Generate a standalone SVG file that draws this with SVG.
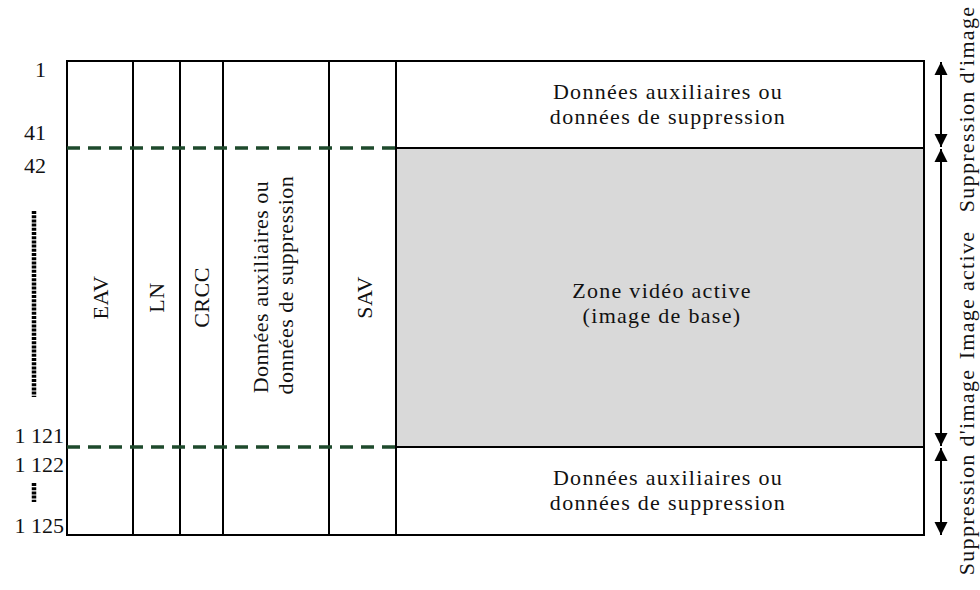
<svg xmlns="http://www.w3.org/2000/svg" width="980" height="590" viewBox="0 0 980 590">
<style>
  .t { font-family: "Liberation Serif", "Times New Roman", serif; font-size: 22px; fill: #111; }
  .sp { letter-spacing: 1.3px; }
  .sr { letter-spacing: 0.5px; }
  .m { text-anchor: middle; }
  .e { text-anchor: end; }
  .ln { stroke: #000; stroke-width: 2; fill: none; }
  .dash { stroke: #1e4a2c; stroke-width: 3.5; stroke-dasharray: 13 8; fill: none; }
  .dots { stroke: #000; stroke-width: 4.5; stroke-dasharray: 3 1.2; fill: none; }
  .arr { stroke: #000; stroke-width: 2; fill: none; marker-start: url(#ah); marker-end: url(#ah); }
</style>
<defs>
  <marker id="ah" viewBox="0 0 10 10" refX="10" refY="5" markerUnits="userSpaceOnUse" markerWidth="13" markerHeight="14" orient="auto-start-reverse">
    <path d="M0,0 L10,5 L0,10 z" fill="#000"/>
  </marker>
</defs>
<rect width="980" height="590" fill="#fff"/>

<g id="active-zone">
  <rect x="396" y="148" width="528" height="299" fill="#d9d9d9"/>
  <text class="t m sp" x="662" y="298">Zone vidéo active</text>
  <text class="t m sp" x="662" y="323">(image de base)</text>
</g>
<g id="top-blanking">
  <text class="t m sp" x="668" y="99">Données auxiliaires ou</text>
  <text class="t m sp" x="668" y="124">données de suppression</text>
</g>
<g id="bottom-blanking">
  <text class="t m sp" x="668" y="485">Données auxiliaires ou</text>
  <text class="t m sp" x="668" y="510">données de suppression</text>
</g>

<g id="frame">
  <rect class="ln" x="67" y="61" width="857" height="474"/>
  <line class="ln" x1="133" y1="61" x2="133" y2="535"/>
  <line class="ln" x1="180" y1="61" x2="180" y2="535"/>
  <line class="ln" x1="223" y1="61" x2="223" y2="535"/>
  <line class="ln" x1="329" y1="61" x2="329" y2="535"/>
  <line class="ln" x1="396" y1="61" x2="396" y2="535"/>
  <line class="ln" x1="396" y1="148" x2="924" y2="148"/>
  <line class="ln" x1="396" y1="447" x2="924" y2="447"/>
</g>

<g id="col-eav"><text class="t m sr" transform="translate(108,297.5) rotate(-90)">EAV</text></g>
<g id="col-ln"><text class="t m sr" transform="translate(164,297.5) rotate(-90)">LN</text></g>
<g id="col-crcc"><text class="t m sr" transform="translate(209,297.5) rotate(-90)">CRCC</text></g>
<g id="col-anc">
  <text class="t m sr" transform="translate(268,287) rotate(-90)">Données auxiliaires ou</text>
  <text class="t m sr" transform="translate(293,285) rotate(-90)">données de suppression</text>
</g>
<g id="col-sav"><text class="t m sr" transform="translate(372,297.5) rotate(-90)">SAV</text></g>

<g id="line-numbers">
  <text class="t e" x="46" y="77">1</text>
  <text class="t e" x="46" y="140">41</text>
  <text class="t e" x="46" y="173">42</text>
  <line class="dots" x1="34" y1="211" x2="34" y2="397"/>
  <text class="t e" x="64" y="443">1 121</text>
  <text class="t e" x="64" y="472">1 122</text>
  <line class="dots" x1="34" y1="483" x2="34" y2="502"/>
  <text class="t e" x="64" y="533">1 125</text>
</g>

<g id="connectors">
  <line class="dash" x1="67" y1="148" x2="396" y2="148"/>
  <line class="dash" x1="67" y1="447" x2="396" y2="447"/>
  <line class="arr" x1="941" y1="62" x2="941" y2="147"/>
  <line class="arr" x1="941" y1="149" x2="941" y2="446"/>
  <line class="arr" x1="941" y1="448" x2="941" y2="535"/>
</g>

<g id="right-labels">
  <text class="t m sp" transform="translate(974,109) rotate(-90)">Suppression d'image</text>
  <text class="t m sp" transform="translate(974,295) rotate(-90)">Image active</text>
  <text class="t m sp" transform="translate(974,472) rotate(-90)">Suppression d'image</text>
</g>
</svg>
